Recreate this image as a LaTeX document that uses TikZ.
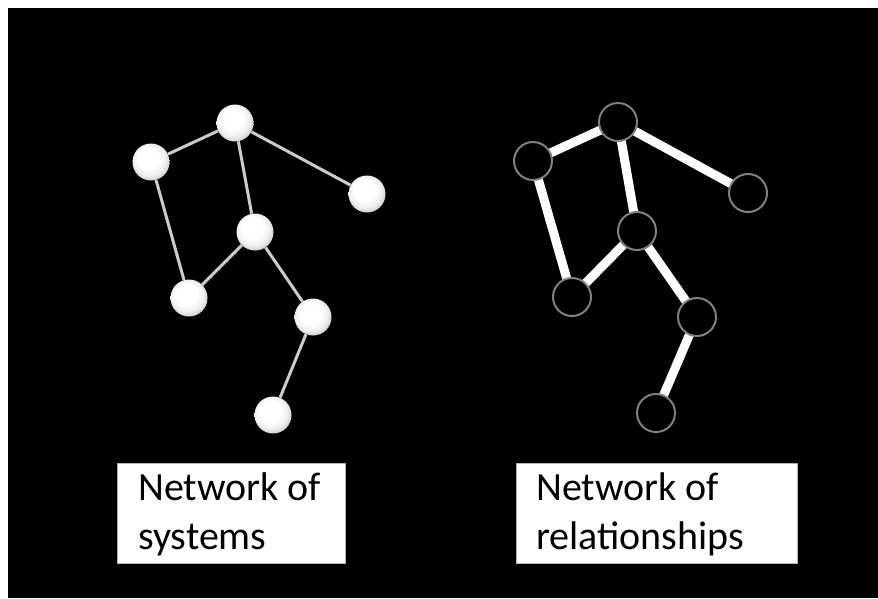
\documentclass[tikz,border=0pt]{standalone}
\usepackage{fontspec}
\setmainfont{Carlito}
\pgfdeclarelayer{bg}
\pgfdeclarelayer{links}
\pgfsetlayers{bg,links,main}
\pgfdeclareradialshading{spherelight}{\pgfpoint{-5bp}{7bp}}{%
  color(0bp)=(white); color(14bp)=(white); color(22bp)=(black!6); color(30bp)=(black!22); color(38bp)=(black!45); color(46bp)=(black!72); color(50bp)=(black!80)}
\begin{document}
\begin{tikzpicture}[x=1pt,y=-1pt,
  sphere/.style={circle, minimum size=37pt, inner sep=0pt, shading=spherelight},
  ring/.style={circle, minimum size=38pt, inner sep=0pt, draw=gray, line width=2pt, fill=black},
  thinlink/.style={draw=gray!40!white, line width=3pt},
  thicklink/.style={draw=white, line width=9pt},
  labelbox/.style={draw=gray!60, line width=0.6pt, fill=white},
  labeltext/.style={anchor=north west, inner sep=0pt, align=left, font=\fontsize{40}{49}\selectfont, text=black}
]
\useasboundingbox (0,0) rectangle (878,598);
\begin{pgfonlayer}{bg}
\fill[white] (0,0) rectangle (878,598);
\fill[black] (8,8) rectangle (878,598);
\end{pgfonlayer}

% left network
\node[sphere] (la) at (235,123) {};
\node[sphere] (lb) at (151,162) {};
\node[sphere] (lc) at (367,194) {};
\node[sphere] (ld) at (255,232) {};
\node[sphere] (le) at (189,298) {};
\node[sphere] (lf) at (313,317) {};
\node[sphere] (lg) at (273,415) {};
\begin{pgfonlayer}{links}
\path[thinlink] (la) -- (lb) (la) -- (lc) (la) -- (ld) (lb) -- (le) (ld) -- (le) (ld) -- (lf) (lf) -- (lg);
\end{pgfonlayer}

% right network
\node[ring] (ra) at (618,122) {};
\node[ring] (rb) at (533,161) {};
\node[ring] (rc) at (748,193) {};
\node[ring] (rd) at (637,231) {};
\node[ring] (re) at (572,297) {};
\node[ring] (rf) at (697,317) {};
\node[ring] (rg) at (656,413) {};
\begin{pgfonlayer}{links}
\path[thicklink] (ra.center) -- (rb.center) (ra.center) -- (rc.center) (ra.center) -- (rd.center) (rb.center) -- (re.center) (rd.center) -- (re.center) (rd.center) -- (rf.center) (rf.center) -- (rg.center);
\end{pgfonlayer}

% labels
\path[labelbox] (117,463) rectangle (345,563);
\node[labeltext] (lt) at (138,473) {Network of\\systems};
\path[labelbox] (516,463) rectangle (797,563);
\node[labeltext] (rt) at (536,473) {Network of\\relationships};
\end{tikzpicture}
\end{document}
